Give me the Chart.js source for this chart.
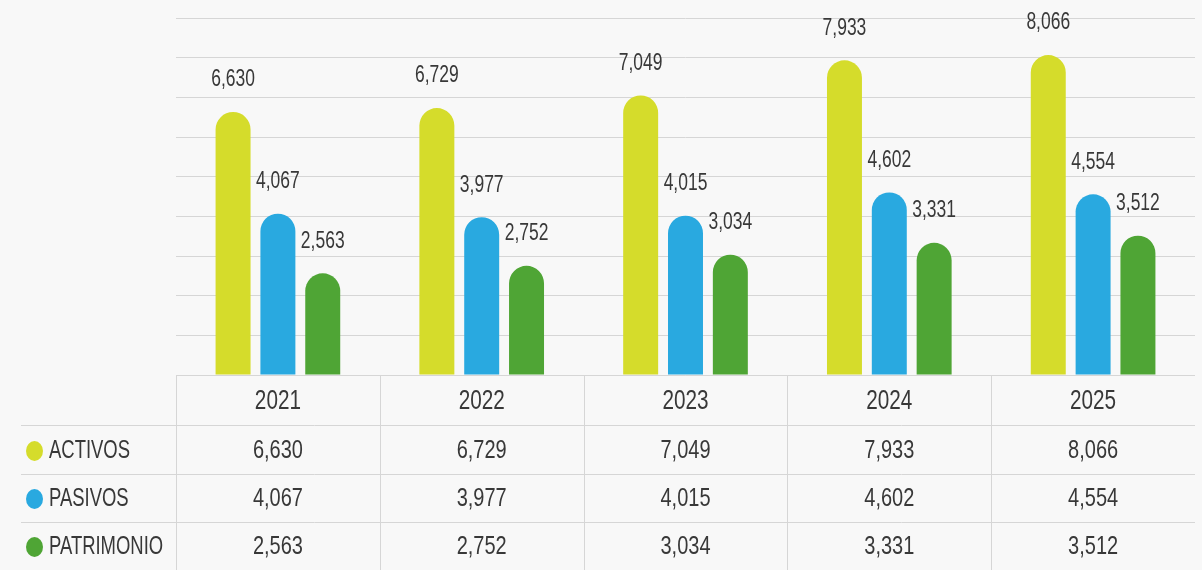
<!DOCTYPE html>
<html>
<head>
<meta charset="utf-8">
<script src="https://cdn.jsdelivr.net/npm/chart.js@4/dist/chart.umd.min.js"></script>
<style>
  html, body { margin: 0; padding: 0; background: #f8f8f8; }
  #wrap { width: 1202px; height: 570px; position: relative; }
</style>
</head>
<body>
<div id="wrap"><canvas id="finChart"></canvas></div>
<script>
// data
const years = ["2021", "2022", "2023", "2024", "2025"];
const seriesNames = ["ACTIVOS", "PASIVOS", "PATRIMONIO"];
const activos = [6630, 6729, 7049, 7933, 8066];
const pasivos = [4067, 3977, 4015, 4602, 4554];
const patrimonio = [2563, 2752, 3034, 3331, 3512];
const colors = ["#d5dc2b", "#29a9e0", "#4fa535"];

const fmt = v => v.toLocaleString("en-US");
const textColor = "#383838";
const lineColor = "#d6d6d6";

// narrow text, drawn squeezed like the original
function squeezeText(ctx, txt, x, y, size, sx, align) {
  ctx.save();
  ctx.font = size + "px 'Liberation Sans', Arial, sans-serif";
  ctx.fillStyle = textColor;
  ctx.textBaseline = "middle";
  ctx.textAlign = align || "center";
  ctx.translate(x, y);
  ctx.scale(sx, 1);
  ctx.fillText(txt, 0, 0);
  ctx.restore();
}

const valueLabels = {
  id: "valueLabels",
  afterDatasetsDraw(chart) {
    const ctx = chart.ctx;
    chart.data.datasets.forEach((ds, di) => {
      const meta = chart.getDatasetMeta(di);
      meta.data.forEach((bar, i) => {
        squeezeText(ctx, fmt(ds.data[i]), bar.x, bar.y - 32, 23, 0.76);
      });
    });
  }
};

const dataTable = {
  id: "dataTable",
  afterDraw(chart) {
    const ctx = chart.ctx;
    const xs = chart.scales.x;
    const area = chart.chartArea;
    const b = area.bottom;
    const catW = (area.right - area.left) / years.length;
    const rowLines = [b + 50, b + 99, b + 147];
    const rowMid = [b + 76, b + 124, b + 172];

    ctx.save();
    ctx.strokeStyle = lineColor;
    ctx.lineWidth = 1;
    ctx.beginPath();
    ctx.moveTo(area.left, b + 0.5);
    ctx.lineTo(area.right, b + 0.5);
    rowLines.forEach(y => {
      ctx.moveTo(21, y + 0.5);
      ctx.lineTo(area.right, y + 0.5);
    });
    years.forEach((yr, i) => {
      const x = Math.round(xs.getPixelForValue(i) - catW / 2) + 0.5;
      ctx.moveTo(x, b);
      ctx.lineTo(x, chart.height);
    });
    ctx.stroke();
    ctx.restore();

    years.forEach((yr, i) => {
      squeezeText(ctx, yr, xs.getPixelForValue(i), b + 26, 28, 0.74);
    });

    chart.data.datasets.forEach((ds, di) => {
      const y = rowMid[di];
      ctx.save();
      ctx.fillStyle = ds.backgroundColor;
      ctx.beginPath();
      ctx.ellipse(34.5, y, 8.5, 10, 0, 0, Math.PI * 2);
      ctx.fill();
      ctx.restore();
      squeezeText(ctx, ds.label, 49, y, 26, 0.71, "left");
      ds.data.forEach((v, i) => {
        squeezeText(ctx, fmt(v), xs.getPixelForValue(i), y, 25, 0.8);
      });
    });
  }
};

const values = [activos, pasivos, patrimonio];

new Chart(document.getElementById("finChart"), {
  type: "bar",
  data: {
    labels: years,
    datasets: seriesNames.map((name, i) => ({
      label: name,
      data: values[i],
      backgroundColor: colors[i],
      borderRadius: { topLeft: 18, topRight: 18, bottomLeft: 0, bottomRight: 0 },
      borderSkipped: "bottom",
      categoryPercentage: 0.66,
      barPercentage: 0.78
    }))
  },
  options: {
    responsive: true,
    maintainAspectRatio: false,
    animation: false,
    layout: { padding: { left: 176, right: 7, top: 18, bottom: 195 } },
    plugins: {
      legend: { display: false },
      tooltip: { enabled: false }
    },
    scales: {
      x: { display: false },
      y: {
        min: 0,
        max: 9000,
        ticks: { display: false, stepSize: 1000 },
        grid: { color: lineColor, drawTicks: false },
        border: { display: false }
      }
    }
  },
  plugins: [valueLabels, dataTable]
});
</script>
</body>
</html>
